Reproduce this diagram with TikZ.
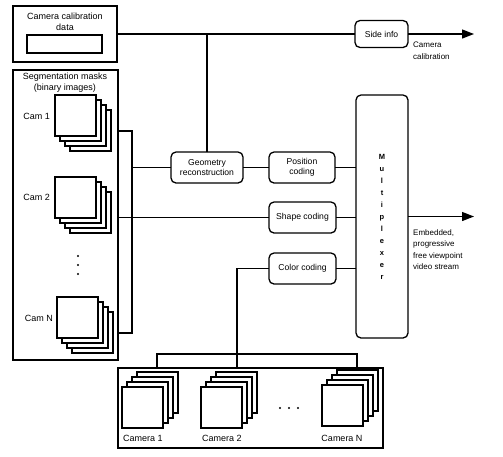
\documentclass[tikz,border=0pt]{standalone}
\usepackage{fontspec}
\setmainfont{Liberation Sans}
\usetikzlibrary{arrows.meta}
\newcommand\maskstackL[3]{%
  \foreach \k in {3,2,1} {\node[sheet, anchor=north west] (#1\k) at ({#2+5*\k},{#3+5*\k}) {};}
  \node[sheet, anchor=north west] (#1) at (#2,#3) {};}
\newcommand\camstackB[3]{%
  \foreach \k in {3,2,1} {\node[sheet, anchor=north west] (#1\k) at ({#2+5*\k},{#3-5*\k}) {};}
  \node[sheet, anchor=north west] (#1) at (#2,#3) {};}
\begin{document}
\begin{tikzpicture}[x=1pt,y=-1pt,
  panel/.style={draw, line width=1.3pt, inner sep=0pt, outer sep=0pt},
  rbox/.style={draw, line width=1.3pt, rounded corners=5pt, inner sep=1pt, outer sep=0pt, align=center, font=\fontsize{8.6}{10.5}\selectfont},
  txt/.style={inner sep=0pt, align=center, font=\fontsize{9}{11}\selectfont},
  lbl/.style={inner sep=0pt, align=left, anchor=north west, font=\fontsize{8}{11.5}\selectfont},
  sheet/.style={draw, fill=white, line width=1.1pt, minimum size=41pt, inner sep=0pt, outer sep=0pt},
  conn/.style={line width=1.3pt},
  arr/.style={conn, -{Triangle[length=12pt,width=9pt]}},
  dot/.style={circle, fill=black, inner sep=0pt, minimum size=2.4pt}]
\useasboundingbox (0,0) rectangle (503,456);

% camera calibration data
\node[panel, minimum width=104pt, minimum height=56pt] (calib) at (65,34) {};
\node[txt] (calibtxt) at (65,22) {Camera calibration\\data};
\node[panel, line width=1.1pt, minimum width=75pt, minimum height=18pt] (calibin) at (64.5,44) {};

% segmentation masks panel
\node[panel, minimum width=105pt, minimum height=290pt] (seg) at (65.5,215) {};
\node[txt] (segtxt) at (65,82.5) {Segmentation masks\\(binary images)};
\maskstackL{m1}{55}{95}
\maskstackL{m2}{55}{177}
\maskstackL{mN}{57}{297}
\node[txt, anchor=east] (cam1) at (50,116) {Cam 1};
\node[txt, anchor=east] (cam2) at (50,197) {Cam 2};
\node[txt, anchor=east] (camN) at (53,318) {Cam N};
\node[dot] (d1) at (78,256) {};
\node[dot] (d2) at (78,265) {};
\node[dot] (d3) at (78,274) {};

% bracket
\coordinate (brt) at (132,131);
\coordinate (brb) at (132,333);
\draw[conn] (seg.east |- brt) -- (brt) -- (brb) -- (seg.east |- brb);

% processing boxes
\node[rbox, minimum width=72pt, minimum height=31pt] (geo) at (207,167.5) {Geometry\\reconstruction};
\node[rbox, minimum width=66pt, minimum height=31pt] (pos) at (302,167.5) {Position\\coding};
\node[rbox, minimum width=67pt, minimum height=31pt] (shape) at (302.5,217.5) {Shape coding};
\node[rbox, minimum width=67pt, minimum height=31pt] (color) at (302.5,268.5) {Color coding};
\node[rbox, minimum width=53pt, minimum height=27pt] (side) at (381.5,34) {Side info};
\node[rbox, minimum width=52pt, minimum height=243pt, font=\bfseries\fontsize{7.5}{12}\selectfont] (mux) at (382,216.5) {M\\u\\l\\t\\i\\p\\l\\e\\x\\e\\r};

% top line
\coordinate (tj) at (207,34);
\draw[conn] (calib.east) -- (side.west);
\draw[conn] (tj) -- (geo.north);
\coordinate (outA) at (474,34);
\draw[arr] (side.east) -- (outA);
\node[lbl] (camcal) at (413,42) {Camera\\calibration};

% segmentation to boxes
\draw[conn] (brt |- geo.west) -- (geo.west);
\draw[conn] (geo.east) -- (pos.west);
\draw[conn] (pos.east) -- (mux.west |- pos.east);
\draw[conn] (seg.east |- shape.west) -- (shape.west);
\draw[conn] (shape.east) -- (mux.west |- shape.east);
\draw[conn] (color.east) -- (mux.west |- color.east);

% output
\coordinate (outB) at (474,216.5);
\draw[arr] (mux.east) -- (outB);
\node[lbl] (emb) at (413,229) {Embedded,\\progressive\\free viewpoint\\video stream};

% bottom panel
\node[panel, minimum width=265pt, minimum height=80pt] (bp) at (250.5,408) {};
\camstackB{c1}{122}{387}
\camstackB{c2}{201}{387}
\camstackB{cN}{322}{385}
\node[txt] (cam1l) at (143,438.5) {Camera 1};
\node[txt] (cam2l) at (222,438.5) {Camera 2};
\node[txt] (camNl) at (342,438.5) {Camera N};
\node[dot] (e1) at (280,408) {};
\node[dot] (e2) at (289,408) {};
\node[dot] (e3) at (298,408) {};

% bus
\coordinate (b1) at (157,354);
\coordinate (b2) at (237,354);
\coordinate (bN) at (357,354);
\draw[conn] (color.west) -| (b2);
\draw[conn] (b1 |- bp.north) -- (b1) -- (bN) -- (bN |- bp.north);
\draw[conn] (b2) -- (b2 |- bp.north);
\end{tikzpicture}
\end{document}
